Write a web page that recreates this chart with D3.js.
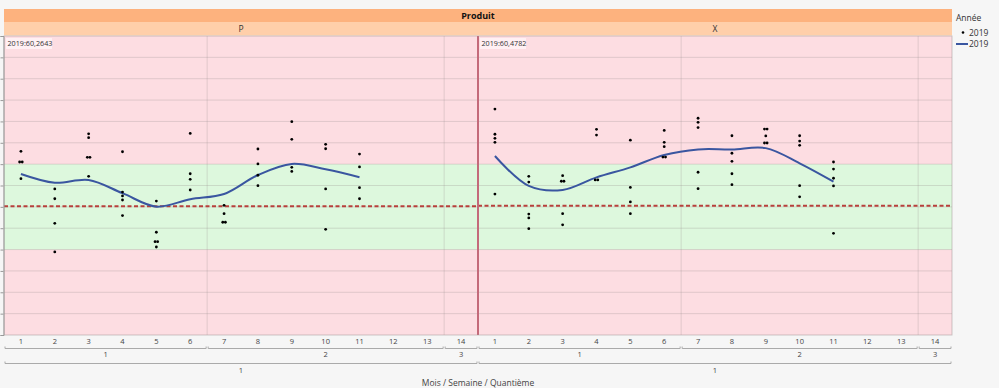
<!DOCTYPE html>
<html><head><meta charset="utf-8">
<script src="https://cdn.jsdelivr.net/npm/d3@7"></script>
<style>
html,body{margin:0;padding:0;background:#f6f6f6;}
svg{display:block;font-family:"Open Sans","Noto Sans",sans-serif;}
</style></head>
<body>
<svg id="chart" width="999" height="388"></svg>
<script>
// ---------- data ----------
const headerTitle = "Produit";
const panels = ["P", "X"];
const refValues = [60.2643, 60.4782];
const refLabels = ["2019:60,2643", "2019:60,4782"];
const days = ["1","2","3","4","5","6","7","8","9","10","11","12","13","14"];
const weekLabels = ["1", "2", "3"];
const weekSpans = [[1, 6], [7, 13], [14, 14]];
const monthLabels = ["1"];
const monthSpans = [[1, 14]];
const xTitle = "Mois / Semaine / Quantième";
const legendTitle = "Année";
const seriesName = "2019";
const bandLow = 40, bandHigh = 80;
const yTicks = [0,10,20,30,40,50,60,70,80,90,100,110,120,130,140];

// points per day (days 1..14) for panel P
const dotsP = [
  [86.0, 81.0, 81.0, 73.2],
  [68.4, 63.8, 52.3, 38.9],
  [94.2, 92.4, 83.2, 83.2, 74.3],
  [85.8, 66.9, 65.1, 63.2, 55.9],
  [62.7, 48.1, 43.7, 43.7, 41.2],
  [94.4, 75.5, 72.9, 67.9],
  [60.7, 56.8, 52.8, 52.8],
  [87.1, 80.1, 74.8, 69.9],
  [99.9, 91.6, 78.5, 76.6],
  [89.3, 87.2, 68.4, 49.5],
  [84.7, 78.7, 69.0, 63.8],
  [], [], []
];
// points per day for panel X
const dotsX = [
  [105.8, 94.0, 92.1, 90.2, 66.0],
  [74.3, 71.6, 56.6, 54.8, 49.8],
  [74.6, 72.0, 72.0, 56.8, 51.6],
  [96.3, 93.6, 72.6, 72.6],
  [91.2, 69.1, 62.3, 56.8],
  [95.8, 90.2, 88.2, 83.3, 83.3],
  [101.5, 99.6, 97.1, 76.2, 68.5],
  [93.3, 85.1, 81.3, 75.5, 70.4],
  [96.4, 96.4, 93.2, 89.9, 89.9],
  [93.3, 90.8, 88.8, 69.9, 64.7],
  [81.0, 77.7, 73.4, 69.8, 47.6],
  [], [], []
];
// smoothed curve per day (days 1..11)
const curveP = [75.4, 71.3, 72.6, 66.4, 60.1, 63.6, 66.0, 74.9, 80.1, 77.6, 73.9];
const curveX = [83.8, 69.8, 67.9, 73.8, 78.5, 84.3, 86.9, 86.9, 87.5, 80.4, 71.8];

// ---------- layout ----------
const svg = d3.select("#chart");
const L = 4, R = 952, T = 36, B = 335;
const mid = (L + R) / 2;
const panelRanges = [[L, mid], [mid, R]];
const y = d3.scaleLinear().domain([0, 140]).range([B, T]);

const colPink = "#fddde2", colGreen = "#ddf8dd", colGrid = "rgba(150,140,140,0.28)";
const colHead1 = "#fdb27e", colHead2 = "#ffcfaa";

// header rows
svg.append("rect").attr("x", L).attr("y", 9).attr("width", R - L).attr("height", 13).attr("fill", colHead1);
svg.append("text").attr("x", mid).attr("y", 18.5).attr("text-anchor", "middle")
  .attr("font-size", 9).attr("font-weight", "bold").attr("fill", "#111").text(headerTitle);

const dotsAll = [dotsP, dotsX];
const curves = [curveP, curveX];

panels.forEach((p, i) => {
  const [x0, x1] = panelRanges[i];
  const x = d3.scaleBand().domain(days).range([x0, x1]).padding(0);
  const g = svg.append("g");

  g.append("rect").attr("x", x0).attr("y", 22).attr("width", x1 - x0).attr("height", 13.5).attr("fill", colHead2);
  g.append("text").attr("x", (x0 + x1) / 2).attr("y", 31.5).attr("text-anchor", "middle")
    .attr("font-size", 8.5).attr("fill", "#333").text(p);

  // backgrounds
  g.append("rect").attr("x", x0).attr("y", T).attr("width", x1 - x0).attr("height", B - T).attr("fill", colPink);
  g.append("rect").attr("x", x0).attr("y", y(bandHigh)).attr("width", x1 - x0)
    .attr("height", y(bandLow) - y(bandHigh)).attr("fill", colGreen);

  // horizontal grid
  g.selectAll(".hg").data(yTicks.slice(1, -1)).enter().append("line")
    .attr("x1", x0).attr("x2", x1).attr("y1", d => y(d)).attr("y2", d => y(d))
    .attr("stroke", colGrid).attr("stroke-width", 1);

  // vertical grid at week boundaries
  weekSpans.slice(0, -1).forEach(s => {
    const xx = x(days[s[1] - 1]) + x.bandwidth();
    g.append("line").attr("x1", xx).attr("x2", xx).attr("y1", T).attr("y2", B)
      .attr("stroke", colGrid).attr("stroke-width", 1);
  });

  // ref label
  const lbl = g.append("g");
  lbl.append("rect").attr("x", x0 + 2).attr("y", T + 2).attr("width", 46).attr("height", 11)
    .attr("fill", "rgba(255,245,247,0.8)");
  lbl.append("text").attr("x", x0 + 3.5).attr("y", T + 10).attr("font-size", 7.2).attr("fill", "#333").text(refLabels[i]);

  // reference dashed line
  g.append("line").attr("x1", x0).attr("x2", x1).attr("y1", y(refValues[i])).attr("y2", y(refValues[i]))
    .attr("stroke", "#b8403c").attr("stroke-width", 2).attr("stroke-dasharray", "4,2.5");

  // curve
  const line = d3.line().x((d, k) => x(days[k]) + x.bandwidth() / 2).y(d => y(d)).curve(d3.curveCatmullRom.alpha(0.5));
  g.append("path").attr("d", line(curves[i])).attr("fill", "none")
    .attr("stroke", "#3a56a0").attr("stroke-width", 2);

  // dots
  const pts = [];
  dotsAll[i].forEach((vals, k) => {
    const counts = {};
    vals.forEach(v => { counts[v] = (counts[v] || 0) + 1; });
    const seen = {};
    vals.forEach(v => {
      const n = counts[v];
      const idx = seen[v] = (seen[v] || 0) + 1;
      const off = n > 1 ? (idx - (n + 1) / 2) * 2.6 : 0;
      pts.push({ day: days[k], v, off });
    });
  });
  g.selectAll(".dot").data(pts).enter().append("circle")
    .attr("cx", d => x(d.day) + x.bandwidth() / 2 + d.off).attr("cy", d => y(d.v))
    .attr("r", 1.4).attr("fill", "#000");

  // x axis: days
  g.selectAll(".dl").data(days).enter().append("text")
    .attr("x", d => x(d) + x.bandwidth() / 2).attr("y", 344).attr("text-anchor", "middle")
    .attr("font-size", 7.5).attr("fill", "#444").text(d => d);

  const bracket = (xa, xb, yy) => {
    g.append("path").attr("d", `M${xa + 1},${yy - 2}V${yy}H${xb - 1}V${yy - 2}`)
      .attr("fill", "none").attr("stroke", "#aaa").attr("stroke-width", 1);
  };
  weekSpans.forEach((s, w) => {
    const xa = x(days[s[0] - 1]), xb = x(days[s[1] - 1]) + x.bandwidth();
    bracket(xa, xb, 348.5);
    g.append("text").attr("x", (xa + xb) / 2).attr("y", 357).attr("text-anchor", "middle")
      .attr("font-size", 7.5).attr("fill", "#444").text(weekLabels[w]);
  });
  monthSpans.forEach((s, m) => {
    const xa = x(days[s[0] - 1]), xb = x(days[s[1] - 1]) + x.bandwidth();
    bracket(xa, xb, 363.5);
    g.append("text").attr("x", (xa + xb) / 2).attr("y", 372.5).attr("text-anchor", "middle")
      .attr("font-size", 7.5).attr("fill", "#444").text(monthLabels[m]);
  });
});

// panel divider
svg.append("line").attr("x1", mid).attr("x2", mid).attr("y1", T).attr("y2", B)
  .attr("stroke", "#c46a7a").attr("stroke-width", 2);
// outer border of plot
svg.append("rect").attr("x", L).attr("y", T).attr("width", R - L).attr("height", B - T)
  .attr("fill", "none").attr("stroke", "rgba(160,150,150,0.5)").attr("stroke-width", 1);

// y axis (no labels)
const yAxis = d3.axisLeft(y).tickValues(yTicks).tickSize(3).tickFormat("");
const ya = svg.append("g").attr("transform", `translate(${L - 0.5},0)`).call(yAxis);
ya.selectAll("path,line").attr("stroke", "#999");

// x title
svg.append("text").attr("x", mid).attr("y", 386).attr("text-anchor", "middle")
  .attr("font-size", 8.5).attr("fill", "#444").text(xTitle);

// legend
const lg = svg.append("g").attr("transform", "translate(956,0)");
lg.append("text").attr("x", 0).attr("y", 21).attr("font-size", 8.5).attr("fill", "#333").text(legendTitle);
lg.append("circle").attr("cx", 7).attr("cy", 32.5).attr("r", 1.3).attr("fill", "#000");
lg.append("text").attr("x", 13).attr("y", 35.5).attr("font-size", 8.5).attr("fill", "#333").text(seriesName);
lg.append("line").attr("x1", 0).attr("x2", 12).attr("y1", 44).attr("y2", 44).attr("stroke", "#3a56a0").attr("stroke-width", 2);
lg.append("text").attr("x", 13).attr("y", 47).attr("font-size", 8.5).attr("fill", "#333").text(seriesName);
</script>
</body></html>
